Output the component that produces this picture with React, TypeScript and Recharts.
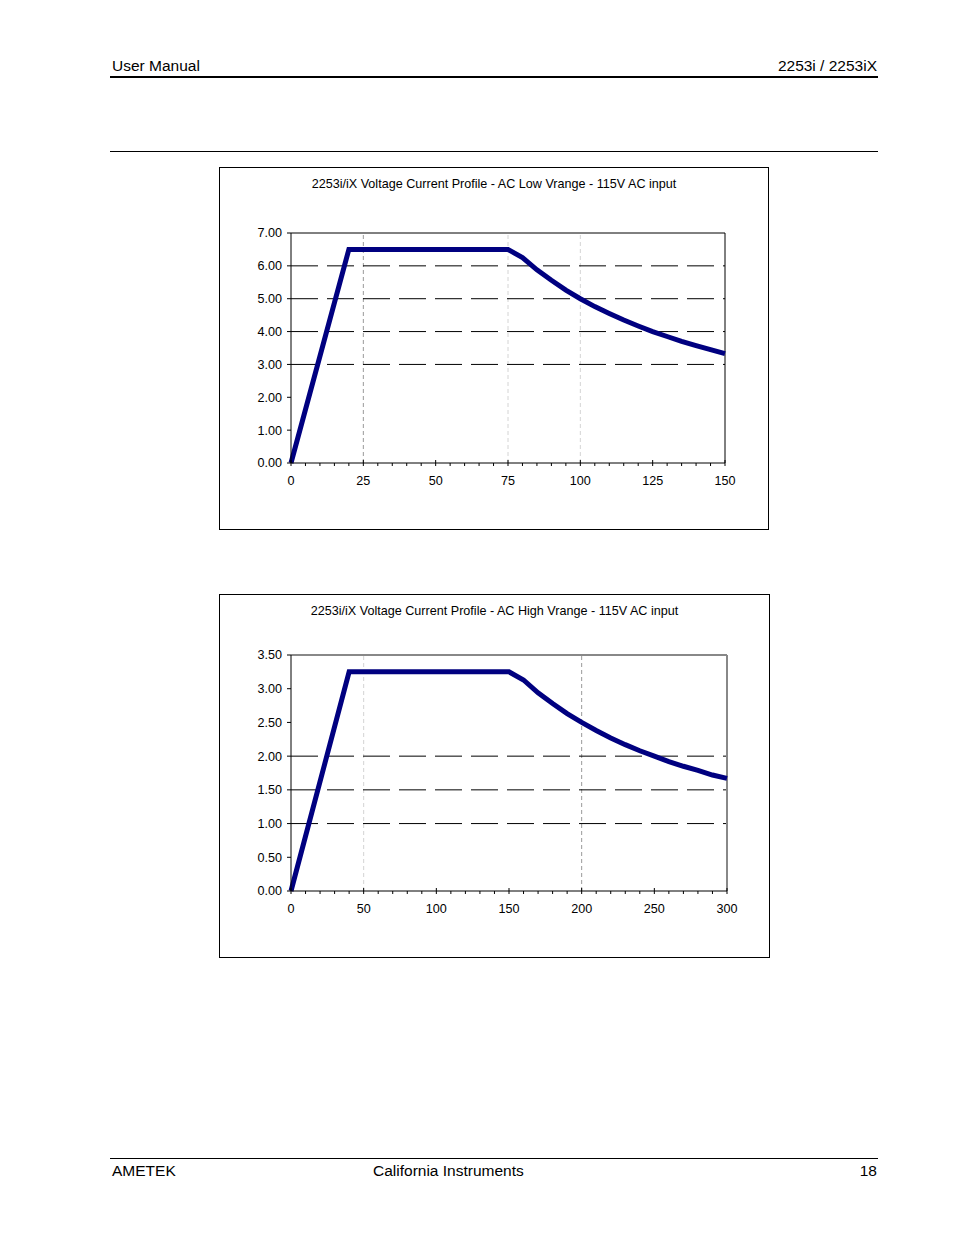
import React from 'react';
import { LineChart, Line, XAxis, YAxis, ReferenceLine } from 'recharts';

// AC Low Vrange: current (A) vs voltage (V)
const lowVolts = [0, 20, 75, 80, 85, 90, 95, 100, 105, 110, 115, 120, 125, 130, 135, 140, 145, 150];
const lowAmps = [0, 6.5, 6.5, 6.25, 5.88, 5.56, 5.26, 5.0, 4.76, 4.55, 4.35, 4.17, 4.0, 3.85, 3.7, 3.57, 3.45, 3.33];
const lowXTicks = [0, 5, 10, 15, 20, 25, 30, 35, 40, 45, 50, 55, 60, 65, 70, 75, 80, 85, 90, 95, 100, 105, 110, 115, 120, 125, 130, 135, 140, 145, 150];
const lowYTicks = [0, 1, 2, 3, 4, 5, 6, 7];
const lowDashedY = [3, 4, 5, 6];

// AC High Vrange
const highVolts = [0, 40, 150, 160, 170, 180, 190, 200, 210, 220, 230, 240, 250, 260, 270, 280, 290, 300];
const highAmps = [0, 3.25, 3.25, 3.13, 2.94, 2.78, 2.63, 2.5, 2.38, 2.27, 2.17, 2.08, 2.0, 1.92, 1.85, 1.79, 1.72, 1.67];
const highXTicks = [0, 10, 20, 30, 40, 50, 60, 70, 80, 90, 100, 110, 120, 130, 140, 150, 160, 170, 180, 190, 200, 210, 220, 230, 240, 250, 260, 270, 280, 290, 300];
const highYTicks = [0, 0.5, 1, 1.5, 2, 2.5, 3, 3.5];
const highDashedY = [1, 1.5, 2];

const FONT = '"Liberation Sans", Arial, sans-serif';
const CHART_FS = 12.6;

const XTick = (props: any) => {
  const { x, y, payload, major } = props;
  const v = payload.value;
  const isMajor = v % major === 0;
  return (
    <g>
      <line x1={x} x2={x} y1={isMajor ? y - 3 : y} y2={y + 3} stroke="#000" strokeWidth={1} />
      {isMajor && (
        <text x={x} y={y + 22} textAnchor="middle" fontSize={CHART_FS} fontFamily={FONT} fill="#000">
          {v}
        </text>
      )}
    </g>
  );
};

interface ProfileProps {
  title: string;
  left: number;
  top: number;
  width: number;
  height: number;
  plotTop: number;
  plotRight: number;
  xAxisHeight: number;
  volts: number[];
  amps: number[];
  xTicks: number[];
  yTicks: number[];
  dashedY: number[];
  xMax: number;
  yMax: number;
  major: number;
  vLines: { x: number; color: string }[];
  borderColor: string;
  borderWidth: number;
}

const Profile: React.FC<ProfileProps> = (p) => {
  const data = p.volts.map((v, i) => ({ v, a: p.amps[i] }));
  return (
    <div style={{ position: 'absolute', left: p.left, top: p.top, width: p.width, height: p.height }}>
      <div
        style={{
          position: 'absolute',
          left: 0,
          top: 0,
          width: p.width - 2,
          height: p.height - 2,
          border: '1px solid #000',
        }}
      />
      <div
        style={{
          position: 'absolute',
          left: 0,
          top: 11,
          width: p.width,
          textAlign: 'center',
          fontFamily: FONT,
          fontSize: CHART_FS,
          lineHeight: '12px',
        }}
      >
        {p.title}
      </div>
      <div style={{ position: 'absolute', left: 0, top: 0 }}>
        <LineChart
          width={p.width}
          height={p.height}
          data={data}
          margin={{ top: p.plotTop, right: p.plotRight, left: 0, bottom: 0 }}
        >
          <XAxis
            dataKey="v"
            type="number"
            domain={[0, p.xMax]}
            ticks={p.xTicks}
            interval={0}
            height={p.xAxisHeight}
            stroke="#000"
            tickLine={false}
            tickSize={0}
            tickMargin={0}
            tick={(t: any) => <XTick {...t} major={p.major} />}
          />
          <YAxis
            type="number"
            domain={[0, p.yMax]}
            ticks={p.yTicks}
            interval={0}
            width={72}
            stroke="#000"
            tickSize={4}
            tickMargin={5}
            tickFormatter={(v: number) => v.toFixed(2)}
            tick={{ fontSize: CHART_FS, fontFamily: FONT, fill: '#000' }}
          />
          {p.vLines.map((l) => (
            <ReferenceLine key={'v' + l.x} x={l.x} stroke={l.color} strokeDasharray="4 3" />
          ))}
          {p.dashedY.map((y) => (
            <ReferenceLine key={'h' + y} y={y} stroke="#000" strokeDasharray="27 9" />
          ))}
          <ReferenceLine y={p.yMax} stroke={p.borderColor} strokeWidth={p.borderWidth} />
          <ReferenceLine x={p.xMax} stroke={p.borderColor} strokeWidth={p.borderWidth} />
          <Line
            dataKey="a"
            type="linear"
            stroke="#000080"
            strokeWidth={5}
            dot={false}
            isAnimationActive={false}
          />
        </LineChart>
      </div>
    </div>
  );
};

const text = (s: string, left: number, top: number, extra: React.CSSProperties = {}) => (
  <div
    style={{
      position: 'absolute',
      left,
      top,
      fontFamily: FONT,
      fontSize: 15.5,
      lineHeight: '15px',
      whiteSpace: 'nowrap',
      ...extra,
    }}
  >
    {s}
  </div>
);

const App: React.FC = () => {
  return (
    <div style={{ position: 'absolute', left: 0, top: 0, width: 954, height: 1235, background: '#fff' }}>
      {text('User Manual', 112, 58)}
      {text('2253i / 2253iX', 0, 58, { left: undefined, right: 954 - 877 })}
      <div style={{ position: 'absolute', left: 110, top: 76, width: 768, height: 2, background: '#000' }} />
      <div style={{ position: 'absolute', left: 110, top: 151, width: 768, height: 1, background: '#000' }} />

      <Profile
        title="2253i/iX Voltage Current Profile - AC Low Vrange - 115V AC input"
        left={219}
        top={167}
        width={550}
        height={363}
        plotTop={66}
        plotRight={44}
        xAxisHeight={67}
        volts={lowVolts}
        amps={lowAmps}
        xTicks={lowXTicks}
        yTicks={lowYTicks}
        dashedY={lowDashedY}
        xMax={150}
        yMax={7}
        major={25}
        vLines={[
          { x: 25, color: '#999' },
          { x: 75, color: '#d4d4d4' },
          { x: 100, color: '#d4d4d4' },
        ]}
        borderColor="#000"
        borderWidth={1}
      />

      <Profile
        title="2253i/iX Voltage Current Profile - AC High Vrange - 115V AC input"
        left={219}
        top={594}
        width={551}
        height={364}
        plotTop={61}
        plotRight={43}
        xAxisHeight={67}
        volts={highVolts}
        amps={highAmps}
        xTicks={highXTicks}
        yTicks={highYTicks}
        dashedY={highDashedY}
        xMax={300}
        yMax={3.5}
        major={50}
        vLines={[
          { x: 50, color: '#d4d4d4' },
          { x: 200, color: '#999' },
        ]}
        borderColor="#888"
        borderWidth={2}
      />

      <div style={{ position: 'absolute', left: 110, top: 1158, width: 768, height: 1, background: '#000' }} />
      {text('AMETEK', 112, 1163)}
      {text('California Instruments', 373, 1163)}
      {text('18', 0, 1163, { left: undefined, right: 954 - 877 })}
    </div>
  );
};

export default App;
